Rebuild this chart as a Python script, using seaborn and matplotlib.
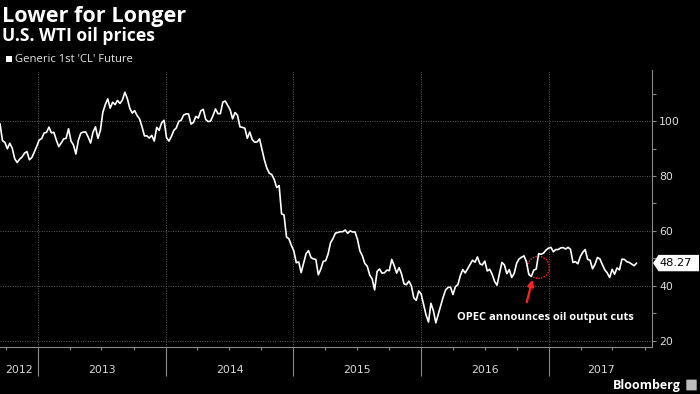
import numpy as np
import pandas as pd
import seaborn as sns
import matplotlib.pyplot as plt
import matplotlib.dates as mdates
from matplotlib.patches import Circle, Polygon, FancyBboxPatch, Rectangle
from matplotlib.transforms import blended_transform_factory, ScaledTranslation

# weekly (Friday) WTI front-month closes
wti_2012 = [99.0, 92.9, 92.2, 89.9, 91.9, 90.1, 86.3, 84.9, 86.1, 86.9, 88.3, 88.9,
            85.9, 86.7, 88.7, 90.8]
wti_2013 = [93.1, 93.6, 95.6, 95.9, 97.8, 95.7, 95.9, 93.1, 90.7, 92.0, 93.5, 93.7,
            97.2, 92.7, 91.3, 88.0, 93.0, 95.6, 96.0, 96.0, 94.2, 92.0, 96.0, 97.9,
            93.7, 96.6, 103.2, 106.0, 108.1, 104.7, 106.9, 106.0, 107.5, 106.4, 107.7,
            110.5, 108.2, 104.7, 102.9, 103.8, 102.0, 100.8, 97.9, 94.6, 94.6, 93.8,
            94.8, 92.7, 97.7, 96.6, 99.3, 100.3]
wti_2014 = [94.0, 92.7, 94.4, 96.6, 97.5, 99.9, 100.3, 102.2, 102.6, 102.6, 98.9, 99.5,
            101.7, 101.1, 103.7, 104.3, 100.6, 99.8, 100.0, 102.0, 104.4, 102.7, 102.7,
            106.9, 107.3, 105.7, 104.1, 100.8, 103.1, 102.1, 97.9, 97.7, 97.4, 93.7, 96.0,
            93.3, 92.3, 92.4, 93.5, 89.7, 85.8, 82.8, 81.0, 80.5, 78.7, 75.8, 76.5, 66.2,
            65.8, 57.8, 57.1, 54.7]
wti_2015 = [52.7, 48.4, 48.7, 44.8, 48.2, 51.7, 52.8, 50.3, 49.8, 49.6, 44.0, 46.0,
            48.9, 49.1, 51.6, 55.7, 57.2, 59.2, 59.4, 59.7, 59.7, 60.3, 59.1, 60.0, 59.6,
            59.6, 56.9, 52.7, 50.9, 48.1, 47.1, 43.9, 42.5, 38.5, 45.2, 46.1, 44.6, 44.7,
            45.7, 45.5, 49.6, 47.3, 44.6, 46.6, 44.3, 40.7, 40.4, 41.7, 40.0, 35.6, 34.7,
            38.1]
wti_2016 = [37.0, 33.2, 29.4, 26.8, 33.6, 30.9, 26.5, 29.6, 32.8, 35.9, 38.5, 39.4,
            39.5, 36.8, 39.7, 40.4, 43.7, 45.9, 44.7, 46.2, 47.8, 49.3, 48.6, 50.5, 48.0,
            47.6, 49.0, 45.4, 46.0, 44.2, 41.6, 40.2, 44.5, 48.5, 47.6, 44.4, 45.9, 43.0,
            44.5, 48.2, 49.8, 50.4, 50.9, 48.7, 44.1, 43.4, 45.7, 46.1, 51.7, 51.5, 51.9,
            53.0, 53.7]
wti_2017 = [54.0, 52.4, 53.2, 53.2, 53.8, 53.9, 53.4, 54.0, 53.3, 48.5, 48.8, 48.0,
            50.6, 52.2, 53.2, 49.6, 49.3, 46.2, 47.8, 50.3, 49.8, 47.7, 45.8, 44.7, 43.0,
            46.0, 44.2, 46.5, 45.8, 49.7, 49.6, 48.8, 48.5, 47.9, 47.3, 48.27]

wti = wti_2012 + wti_2013 + wti_2014 + wti_2015 + wti_2016 + wti_2017
dates = pd.date_range("2012-09-14", periods=len(wti), freq="W-FRI")
df = pd.DataFrame({"date": dates, "price": wti})

years = [2012, 2013, 2014, 2015, 2016, 2017]
y_major = [20, 40, 60, 80, 100]
y_minor = [30, 50, 70, 90, 110]
x_start, x_end = pd.Timestamp("2012-09-14"), pd.Timestamp("2017-10-22")
opec_date, opec_price = pd.Timestamp("2016-12-01"), 46.7
opec_label = "OPEC announces oil output cuts"

sns.set_theme(style="dark", rc={
    "axes.facecolor": "black", "figure.facecolor": "black",
    "axes.edgecolor": "#8a8a8a", "text.color": "white",
})
plt.rcParams["font.family"] = ["Open Sans", "DejaVu Sans"]

fig, ax = plt.subplots(figsize=(7, 3.94), dpi=100)
fig.subplots_adjust(left=0, right=652 / 700, top=1 - 70 / 394, bottom=1 - 347 / 394)

sns.lineplot(data=df, x="date", y="price", ax=ax, color="white", linewidth=1.2)

ax.set_xlim(x_start, x_end)
ax.set_ylim(17.7, 118.6)
ax.set_xlabel("")
ax.set_ylabel("")

# right-hand price axis
ax.yaxis.tick_right()
ax.set_yticks(y_major)
ax.set_yticks(y_minor, minor=True)
ax.tick_params(axis="y", which="both", right=True, left=False, length=3, width=0.8,
               color="#8a8a8a", labelcolor="#dddddd", labelsize=7.8, pad=2)
for lab in ax.get_yticklabels():
    lab.set_family("DejaVu Sans")

# year separators below the axis, quarter ticks
ax.xaxis.set_major_locator(mdates.YearLocator())
ax.xaxis.set_minor_locator(mdates.MonthLocator(bymonth=[4, 7, 10]))
ax.tick_params(axis="x", which="major", bottom=True, length=21, width=0.8,
               color="#8a8a8a", labelbottom=False)
ax.tick_params(axis="x", which="minor", bottom=True, length=2.5, width=0.8, color="#8a8a8a")

ax.grid(True, which="major", axis="both", color="#5e5e5e", linestyle=(0, (1, 1.5)), linewidth=0.7)

for side in ["top", "left"]:
    ax.spines[side].set_visible(False)
for side in ["bottom", "right"]:
    ax.spines[side].set_color("#8a8a8a")
    ax.spines[side].set_linewidth(0.8)

# year labels centred on the visible part of each year
xt = blended_transform_factory(ax.transData, ax.transAxes)
for yr in years:
    lo = max(pd.Timestamp(f"{yr}-01-01"), x_start)
    hi = min(pd.Timestamp(f"{yr + 1}-01-01"), x_end)
    mid = lo + (hi - lo) / 2
    ax.text(mdates.date2num(mid), -0.083, str(yr), transform=xt, ha="center", va="center",
            fontsize=7.8, color="#d8d8d8", family="DejaVu Sans")

# last-price tag on the axis
last = wti[-1]
yt = blended_transform_factory(ax.transAxes, ax.transData)
tag_tr = fig.dpi_scale_trans + ScaledTranslation(1.0, last, yt)
tag = Polygon([(0.01, 0), (0.065, 0.082), (0.47, 0.082), (0.47, -0.082), (0.065, -0.082)],
              closed=True, transform=tag_tr, facecolor="white", edgecolor="none", clip_on=False)
ax.add_patch(tag)
ax.text(0.07, 0, f"{last:.2f}", transform=tag_tr, ha="left", va="center", fontsize=8.2,
        color="black", family="DejaVu Sans", clip_on=False)

# OPEC annotation
circ_tr = fig.dpi_scale_trans + ScaledTranslation(mdates.date2num(opec_date), opec_price, ax.transData)
ax.add_patch(Circle((0, 0), 0.11, transform=circ_tr, fill=False, edgecolor="#ff2020",
                    linestyle=(0, (1, 1)), linewidth=1.0))
ax.annotate("", xy=(mdates.date2num(pd.Timestamp("2016-11-16")), 43.2),
            xytext=(mdates.date2num(pd.Timestamp("2016-10-27")), 33.0),
            arrowprops=dict(arrowstyle="-|>", color="#ff2020", lw=1.6, mutation_scale=9))
ax.text(mdates.date2num(pd.Timestamp("2016-12-20")), 28.6, opec_label, ha="center",
        va="center", fontsize=8, fontweight="bold", color="white")

# titles and legend
fig.text(2 / 700, 1 - 22 / 394, "Lower for Longer", fontsize=15.6, fontweight="bold",
         color="white", ha="left", va="baseline")
fig.text(2 / 700, 1 - 41 / 394, "U.S. WTI oil prices", fontsize=12.6, fontweight="bold",
         color="white", ha="left", va="baseline")
fig.patches.append(Rectangle((6 / 700, 1 - 62 / 394), 6 / 700, 6 / 394, transform=fig.transFigure,
                             facecolor="white", edgecolor="none"))
fig.text(15 / 700, 1 - 59 / 394, "Generic 1st 'CL' Future", fontsize=8.1, color="#e6e6e6",
         ha="left", va="center")

# Bloomberg mark
fig.text(613 / 700, 1 - 385 / 394, "Bloomberg", fontsize=9, fontweight="bold",
         color="white", ha="left", va="center")
fig.patches.append(FancyBboxPatch((687 / 700, 1 - 390 / 394), 9 / 700, 10 / 394,
                                  boxstyle="round,pad=0.001", transform=fig.transFigure,
                                  facecolor="#bdbdbd", edgecolor="none"))

fig.savefig("out.png", dpi=100, facecolor="black")
plt.close(fig)
